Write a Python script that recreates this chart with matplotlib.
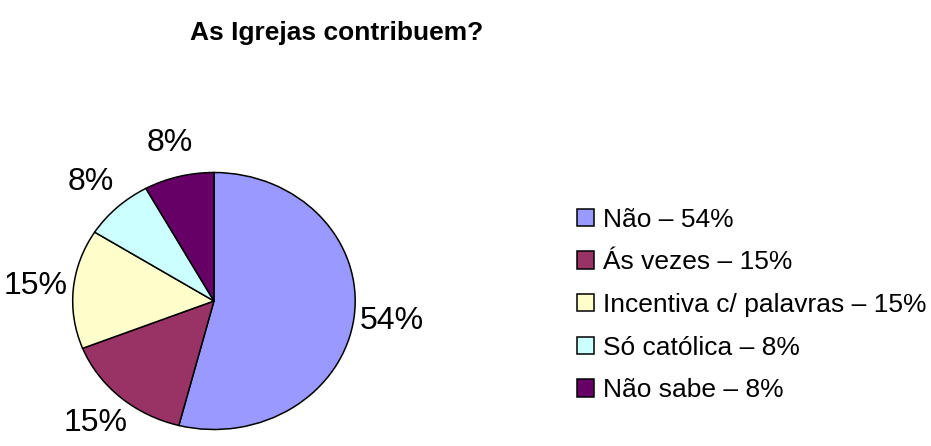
import matplotlib
matplotlib.use("Agg")
import matplotlib.pyplot as plt

plt.rcParams['font.family'] = ['Liberation Sans', 'DejaVu Sans']

# dados do gráfico
categorias = ['Não', 'Ás vezes', 'Incentiva c/ palavras', 'Só católica', 'Não sabe']
valores = [54, 15, 15, 8, 8]
cores = ['#9999FF', '#993366', '#FFFFCC', '#CCFFFF', '#660066']
titulo = 'As Igrejas contribuem?'

W, H = 931, 446
fig = plt.figure(figsize=(W / 100, H / 100), dpi=100)

# pizza levemente elíptica, como no Excel
ax = fig.add_axes([72.7 / W, 1 - 429.5 / H, 282.5 / W, 257 / H])
wedges, _, textos = ax.pie(valores, colors=cores, startangle=90, counterclock=False,
                           autopct='%1.0f%%', pctdistance=1.27,
                           wedgeprops=dict(edgecolor='black', linewidth=1.1),
                           textprops=dict(fontsize=23, color='black'))
ax.set_aspect('auto')
ax.set_xlim(-1, 1)
ax.set_ylim(-1, 1)

fig.text(337 / W, 1 - 33 / H, titulo, ha='center', va='center',
         fontsize=19, fontweight='bold')

rotulos = [f'{c} – {v}%' for c, v in zip(categorias, valores)]
fig.legend(wedges, rotulos, loc='center left',
           bbox_to_anchor=(577 / W, 1 - 305 / H),
           frameon=False, fontsize=19, borderaxespad=0, borderpad=0,
           handlelength=0.64, handleheight=0.64, handletextpad=0.34,
           labelspacing=0.71)

fig.savefig('out.png', dpi=100, facecolor='white')
